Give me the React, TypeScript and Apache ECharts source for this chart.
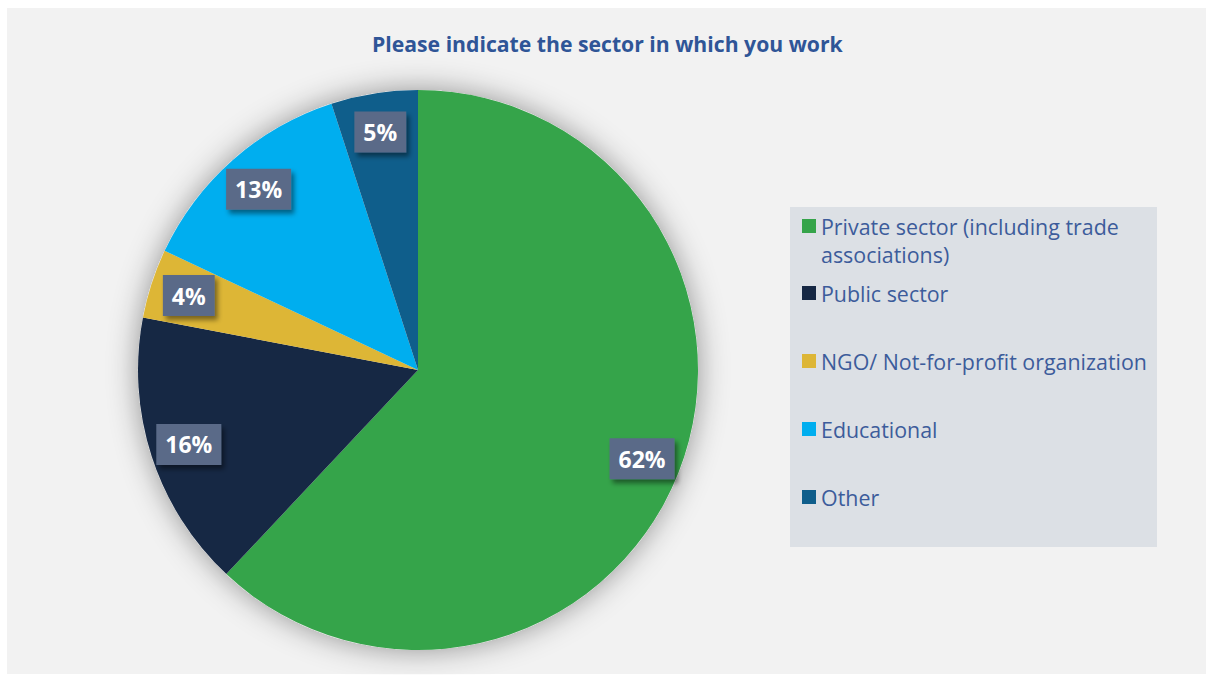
import React, { useEffect, useRef } from "react";
import * as echarts from "echarts";

const titleText = "Please indicate the sector in which you work";
const categories = [
  "Private sector (including trade associations)",
  "Public sector",
  "NGO/ Not-for-profit organization",
  "Educational",
  "Other",
];
const values = [62, 16, 4, 13, 5];
const colors = ["#35a44a", "#162844", "#ddb636", "#00aeef", "#0f5e8b"];

export default function App() {
  const ref = useRef<HTMLDivElement>(null);
  useEffect(() => {
    document.body.style.margin = "0";
    const chart = echarts.init(ref.current!, null, { renderer: "svg" });
    const data = categories.map((name, i) => ({
      name,
      value: values[i],
      itemStyle: { color: colors[i] },
    }));
    const legendText = {
      fontFamily: "Open Sans",
      fontSize: 21.4,
      lineHeight: 28,
      color: "#3c5c9b",
    };
    chart.setOption({
      animation: false,
      backgroundColor: "#ffffff",
      title: {
        text: titleText,
        left: 367,
        top: 28,
        textStyle: {
          fontFamily: "Open Sans",
          fontWeight: "bold",
          fontSize: 21.2,
          color: "#2f5597",
        },
      },
      graphic: [
        {
          type: "rect",
          z: -10,
          shape: { x: 7, y: 8, width: 1199, height: 666 },
          style: { fill: "#f2f2f2" },
          silent: true,
        },
        {
          type: "rect",
          z: -9,
          shape: { x: 790, y: 207, width: 367, height: 340 },
          style: { fill: "#dce0e5" },
          silent: true,
        },
      ],
      legend: [
        {
          orient: "vertical",
          left: 802,
          top: 184,
          padding: 0,
          icon: "rect",
          itemWidth: 14,
          itemHeight: 14,
          selectedMode: false,
          data: [categories[0]],
          formatter: () => "\nPrivate sector (including trade\nassociations)",
          textStyle: legendText,
        },
        {
          orient: "vertical",
          left: 802,
          top: 279,
          padding: 0,
          icon: "rect",
          itemWidth: 14,
          itemHeight: 14,
          itemGap: 40,
          selectedMode: false,
          data: categories.slice(1),
          textStyle: legendText,
        },
      ],
      series: [
        {
          type: "pie",
          center: [418, 370],
          radius: 280,
          silent: true,
          label: { show: false },
          labelLine: { show: false },
          itemStyle: {
            color: "#f2f2f2",
            shadowBlur: 30,
            shadowColor: "rgba(0,0,0,0.4)",
          },
          data: [{ value: 1, name: "" }],
        },
        {
          type: "pie",
          center: [418, 370],
          radius: 280,
          startAngle: 90,
          clockwise: true,
          silent: true,
          label: { show: false },
          labelLine: { show: false },
          itemStyle: { borderWidth: 0 },
          data,
        },
        {
          type: "pie",
          center: [418, 370],
          radius: [194, 282],
          startAngle: 90,
          clockwise: true,
          silent: true,
          itemStyle: { color: "transparent", borderWidth: 0 },
          labelLine: { show: false },
          label: {
            show: true,
            position: "inside",
            formatter: "{c}%",
            fontFamily: "Open Sans",
            fontWeight: "bold",
            fontSize: 23,
            lineHeight: 31,
            color: "#ffffff",
            backgroundColor: "#5a6b88",
            padding: [5, 9],
            shadowColor: "rgba(0,0,0,0.45)",
            shadowBlur: 5,
            shadowOffsetX: 3,
            shadowOffsetY: 4,
          },
          data: categories.map((name, i) => ({ name, value: values[i] })),
        },
      ],
    });
    return () => chart.dispose();
  }, []);
  return <div ref={ref} style={{ width: 1206, height: 675 }} />;
}
